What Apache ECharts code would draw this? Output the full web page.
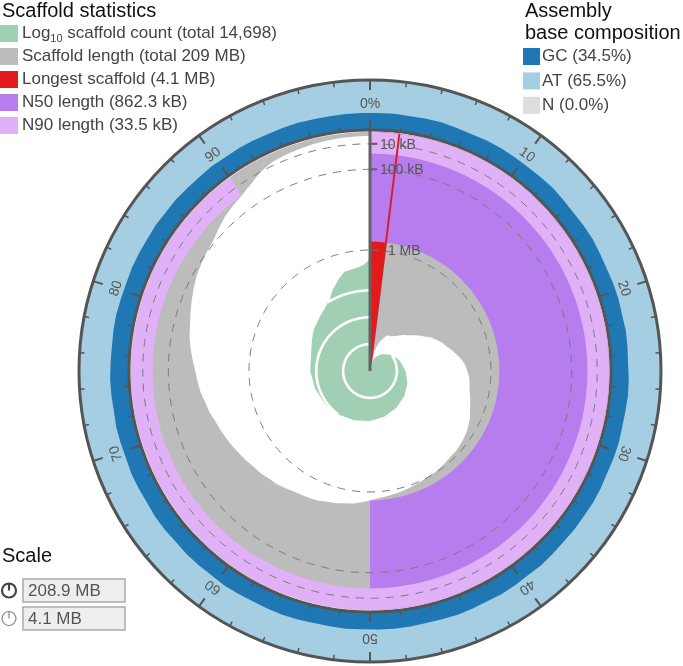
<!DOCTYPE html>
<html><head><meta charset="utf-8">
<script src="https://cdn.jsdelivr.net/npm/echarts@6/dist/echarts.min.js"></script>
<style>html,body{margin:0;padding:0;background:#fff}#c{width:683px;height:666px}</style>
</head><body><div id="c"></div>
<script>
// ---------------- data ----------------
const totalSpanMB = 208.9;
const totalCount = 14698;
const longestKB = 4100;
const n50KB = 862.3;
const n90KB = 33.5;

// scaffold length (kB) at each whole percent of the assembly, 0..100
const scaffoldLengthKB = [
  4100, 4100, 3630, 3535, 3315, 3130, 2985, 2865, 2840, 2810,
  2750, 2670, 2585, 2505, 2400, 2290, 2190, 2065, 1970, 1875,
  1805, 1715, 1630, 1545, 1480, 1440, 1400, 1380, 1360, 1320,
  1280, 1240, 1185, 1150, 1115, 1095, 1075, 1060, 1060, 1040,
  1025, 1008, 1008, 990, 975, 957, 940, 925, 908, 892,
  862, 830, 798, 783, 753, 738, 709, 695, 681, 667,
  640, 613, 600, 573, 560, 535, 511, 487, 463, 440,
  418, 386, 365, 335, 315, 296, 269, 243, 219, 203,
  181, 160, 140, 122, 110, 99, 89, 70, 53, 42,
  33.5, 21, 10, 5, 3.5, 2.6, 2.0, 1.6, 1.3, 1.1,
  1.0
];

// cumulative scaffold count at percent positions
const countPct =      [0, 2, 3, 5, 7, 10, 13, 15, 18, 20, 25, 30, 35, 40, 45, 50, 55, 60, 65, 70, 75, 80, 83, 85, 88, 90, 92, 93, 95, 96, 98, 99, 100];
const scaffoldCount = [1, 1, 2, 3, 4, 6, 8, 10, 13, 15, 21, 29, 38, 48, 60, 72, 85, 100, 118, 140, 168, 200, 290, 390, 560, 750, 1200, 2000, 4500, 6500, 7500, 9000, 14698];

// GC % in each 1 % bin of the assembly
const gcBins = [
  34.1, 35.0, 33.6, 34.8, 35.3, 34.0, 33.2, 34.6, 35.1, 34.4,
  33.9, 34.7, 35.4, 34.2, 33.5, 34.9, 35.6, 34.3, 33.8, 35.0,
  35.5, 34.6, 36.0, 35.2, 34.4, 35.8, 36.3, 35.1, 34.7, 35.9,
  35.4, 34.5, 35.7, 36.1, 34.9, 35.3, 34.2, 35.0, 35.8, 34.6,
  35.2, 35.9, 34.8, 35.5, 36.2, 35.0, 34.4, 35.6, 36.0, 35.3,
  34.7, 35.8, 35.1, 34.3, 35.4, 36.1, 35.6, 34.9, 35.7, 36.4,
  35.2, 35.9, 36.5, 35.4, 36.8, 37.2, 36.0, 36.9, 37.5, 36.3,
  37.0, 37.8, 36.6, 37.4, 38.0, 37.1, 36.5, 37.6, 37.9, 36.8,
  36.2, 37.0, 36.4, 35.8, 36.6, 35.5, 36.1, 35.2, 34.8, 35.6,
  34.3, 35.0, 34.6, 33.9, 34.7, 35.2, 34.0, 33.7, 34.5, 34.2
];

const angleTickValues = [0, 10, 20, 30, 40, 50, 60, 70, 80, 90];
const angleTickLabels = ['0%', '10', '20', '30', '40', '50', '60', '70', '80', '90'];
const radialTickKB = [10, 100, 1000];
const radialTickLabels = ['10 kB', '100 kB', '1 MB'];
const countCircles = [10, 100, 1000];

const statLegend = [
  {name: 'Log10', color: '#a1cfb4'},
  {name: 'Scaffold length (total 209 MB)', color: '#bcbcbc'},
  {name: 'Longest scaffold (4.1 MB)', color: '#e31a1c'},
  {name: 'N50 length (862.3 kB)', color: '#b77ced'},
  {name: 'N90 length (33.5 kB)', color: '#e0b1f7'}
];
const compLegend = [
  {name: 'GC (34.5%)', color: '#1f78b4'},
  {name: 'AT (65.5%)', color: '#a6cee3'},
  {name: 'N (0.0%)', color: '#dddddd'}
];
const scaleLabels = ['208.9 MB', '4.1 MB'];

// ---------------- chart ----------------
const FONT = '"Liberation Sans", Arial, Helvetica, sans-serif';
const CENTER = [370, 371];
const sq = v => Math.sqrt(v);
const longestPct = longestKB / 1000 / totalSpanMB * 100;

function arc(api, value, p0, p1, step) {
  const pts = [];
  const n = Math.max(1, Math.ceil(Math.abs(p1 - p0) / (step || 0.5)));
  for (let k = 0; k <= n; k++) pts.push(api.coord([value, p0 + (p1 - p0) * k / n]));
  return pts;
}
function cs(polarIndex, z, draw) {
  return {type: 'custom', coordinateSystem: 'polar', polarIndex, z, silent: true, animation: false, clip: false,
    data: [[1, 1]], renderItem: (params, api) => params.dataIndex === 0 ? draw(api) : null};
}
function poly(points, fill) { return {type: 'polygon', shape: {points}, style: {fill, stroke: null}}; }

const series = [];
// snail (polar 0)
series.push(cs(0, 1, api => poly(arc(api, 0, 0, 100), '#bcbcbc')));
series.push(cs(0, 2, api => {
  const pts = [api.coord([sq(longestKB), 0])];
  scaffoldLengthKB.forEach((v, i) => pts.push(api.coord([sq(v), i])));
  return poly(pts, '#ffffff');
}));
series.push(cs(0, 3, api => poly([api.coord([sq(longestKB), 0])].concat(arc(api, 0, 0, longestPct, 0.2)), '#e31a1c')));
series.push(cs(0, 4, api => poly(arc(api, sq(n50KB), 0, 50).concat(arc(api, 0, 50, 0)), '#b77ced')));
series.push(cs(0, 5, api => poly(arc(api, sq(n90KB), 0, 90).concat(arc(api, 0, 90, 0)), '#e0b1f7')));
series.push(cs(0, 6, api => ({type: 'group', children: radialTickKB.map(kb => ({
  type: 'polyline', shape: {points: arc(api, sq(kb), 0, 100, 0.25)},
  style: {stroke: '#7a7a7a', lineWidth: 1, fill: null, lineDash: [8, 7]}
}))})));
series.push(cs(0, 7, api => {
  const a = api.coord([sq(longestKB), longestPct]), b = api.coord([0, longestPct]);
  return {type: 'line', shape: {x1: a[0], y1: a[1], x2: b[0], y2: b[1]}, style: {stroke: '#dc1c2a', lineWidth: 2}};
}));
// count spiral (polar 1, log radius)
series.push(cs(1, 8, api => {
  const pts = [api.coord([1, 0])];
  scaffoldCount.forEach((c, i) => pts.push(api.coord([c, countPct[i]])));
  return poly(pts, '#a1cfb4');
}));
series.push(cs(1, 9, api => {
  const children = [];
  countCircles.forEach(c => {
    let start = null;
    for (let i = 1; i < scaffoldCount.length; i++) {
      if (scaffoldCount[i] >= c) {
        const l0 = Math.log(scaffoldCount[i - 1]), l1 = Math.log(scaffoldCount[i]);
        const t = l1 === l0 ? 0 : (Math.log(c) - l0) / (l1 - l0);
        start = countPct[i - 1] + t * (countPct[i] - countPct[i - 1]);
        break;
      }
    }
    if (start !== null) children.push({type: 'polyline', shape: {points: arc(api, c, start, 100, 0.25)},
      style: {stroke: '#ffffff', lineWidth: 2.6, fill: null}});
  });
  return {type: 'group', children};
}));
// radial axis
series.push(cs(0, 10, api => {
  const c = api.coord([sq(longestKB), 0]), e = api.coord([0, 0]);
  const children = [{type: 'line', shape: {x1: c[0], y1: c[1], x2: e[0], y2: e[1] - 2}, style: {stroke: '#636363', lineWidth: 3}}];
  radialTickKB.forEach((kb, i) => {
    const p = api.coord([sq(kb), 0]);
    let tx = p[0] + 10;
    if (kb > n50KB) tx = Math.max(tx, api.coord([sq(kb), longestPct])[0] + 3);
    children.push({type: 'line', shape: {x1: p[0], y1: p[1], x2: p[0] + 7, y2: p[1]}, style: {stroke: '#636363', lineWidth: 2}});
    children.push({type: 'text', x: tx, y: p[1] + 1, style: {text: radialTickLabels[i], fill: '#555', fontSize: 14, fontFamily: FONT, align: 'left', verticalAlign: 'middle'}});
  });
  return {type: 'group', children};
}));
// composition ring (polar 2)
series.push(cs(2, 3, api => poly(arc(api, 100, 0, 100).concat(arc(api, 0, 100, 0)), '#a6cee3')));
series.push(cs(2, 4, api => {
  const pts = [api.coord([gcBins[0], 0])];
  gcBins.forEach((g, i) => pts.push(api.coord([g, i + 0.5])));
  pts.push(api.coord([gcBins[gcBins.length - 1], 100]));
  return poly(pts.concat(arc(api, 0, 100, 0)), '#1f78b4');
}));
series.push(cs(2, 6, api => ({type: 'group', children: angleTickValues.map((v, i) => {
  const p = api.coord([52, v]);
  return {type: 'text', x: p[0], y: p[1], rotation: -v * 3.6 * Math.PI / 180,
    style: {text: angleTickLabels[i], fill: '#555', fontSize: 14, fontFamily: FONT, align: 'center', verticalAlign: 'middle'}};
})})));

const hiddenAngle = i => ({polarIndex: i, type: 'value', min: 0, max: 100, startAngle: 90, clockwise: true, show: false});
const tickAngle = (i, inside, showLine) => ({
  polarIndex: i, type: 'value', min: 0, max: 100, interval: 10, startAngle: 90, clockwise: true, z: 10,
  axisLine: {show: showLine, lineStyle: {color: '#555', width: 3}},
  axisTick: {show: true, inside, length: 10, lineStyle: {color: '#555', width: 2}},
  minorTick: {show: true, splitNumber: 5, length: 5, lineStyle: {color: '#555', width: 1.5}},
  axisLabel: {show: false}, splitLine: {show: false}
});

const graphic = [];
graphic.push({type: 'text', x: 2, y: 1, style: {text: 'Scaffold statistics', fontSize: 20, fontFamily: FONT, fill: '#111', verticalAlign: 'top'}});
statLegend.forEach((d, i) => {
  const y = 25 + 23 * i;
  graphic.push({type: 'rect', shape: {x: 0, y, width: 18, height: 17}, style: {fill: d.color}});
  if (i === 0) {
    graphic.push({type: 'text', x: 22, y: y + 8.5, style: {
      text: '{a|Log}{b|10}{a| scaffold count (total 14,698)}', verticalAlign: 'middle', fill: '#444',
      rich: {a: {fontSize: 17, fontFamily: FONT, fill: '#444'}, b: {fontSize: 11, fontFamily: FONT, fill: '#444', padding: [10, 0, 0, 0]}}}});
  } else {
    graphic.push({type: 'text', x: 22, y: y + 8.5, style: {text: d.name, fontSize: 17, fontFamily: FONT, fill: '#444', verticalAlign: 'middle'}});
  }
});
graphic.push({type: 'text', x: 525, y: 1, style: {text: 'Assembly', fontSize: 20, fontFamily: FONT, fill: '#111', verticalAlign: 'top'}});
graphic.push({type: 'text', x: 525, y: 23, style: {text: 'base composition', fontSize: 20, fontFamily: FONT, fill: '#111', verticalAlign: 'top'}});
compLegend.forEach((d, i) => {
  const y = 48 + 24.4 * i;
  graphic.push({type: 'rect', shape: {x: 523, y, width: 17, height: 17}, style: {fill: d.color}});
  graphic.push({type: 'text', x: 542, y: y + 8.5, style: {text: d.name, fontSize: 17, fontFamily: FONT, fill: '#444', verticalAlign: 'middle'}});
});
graphic.push({type: 'text', x: 2, y: 546, style: {text: 'Scale', fontSize: 20, fontFamily: FONT, fill: '#111', verticalAlign: 'top'}});
scaleLabels.forEach((t, i) => {
  const y = 579 + 28 * i;
  const cy = y + 11.5;
  graphic.push({type: 'circle', shape: {cx: 9, cy, r: 7}, style: {fill: null, stroke: i === 0 ? '#444' : '#888', lineWidth: i === 0 ? 2.2 : 1.2}});
  graphic.push({type: 'line', shape: {x1: 9, y1: cy, x2: 9, y2: cy - 7}, style: {stroke: i === 0 ? '#444' : '#888', lineWidth: i === 0 ? 2.2 : 1.2}});
  graphic.push({type: 'rect', shape: {x: 23, y, width: 102, height: 23}, style: {fill: '#eeeeee', stroke: '#aaaaaa', lineWidth: 1.5}});
  graphic.push({type: 'text', x: 28, y: cy + 0.5, style: {text: t, fontSize: 17, fontFamily: FONT, fill: '#555', verticalAlign: 'middle'}});
});

const option = {
  animation: false,
  polar: [
    {center: CENTER, radius: [0, 239]},
    {center: CENTER, radius: [0, 112]},
    {center: CENTER, radius: [241, 291]},
    {center: CENTER, radius: [0, 241]}
  ],
  angleAxis: [hiddenAngle(0), hiddenAngle(1), tickAngle(2, true, true), tickAngle(3, false, false)],
  radiusAxis: [
    {polarIndex: 0, type: 'value', min: 0, max: sq(longestKB), inverse: true, show: false},
    {polarIndex: 1, type: 'log', logBase: 10, min: 1, max: totalCount, show: false},
    {polarIndex: 2, type: 'value', min: 0, max: 100, show: false},
    {polarIndex: 3, type: 'value', min: 0, max: 100, show: false}
  ],
  series,
  graphic
};
const chart = echarts.init(document.getElementById('c'));
chart.setOption(option);
</script></body></html>
